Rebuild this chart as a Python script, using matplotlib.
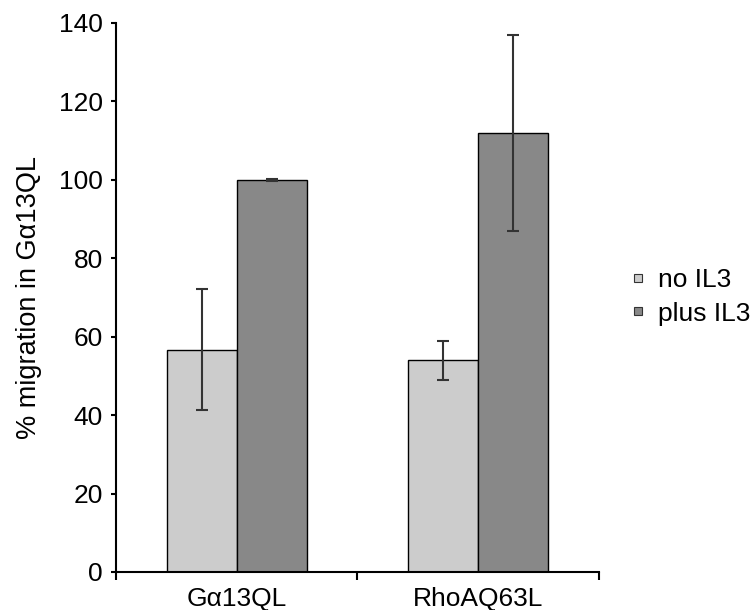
import numpy as np
import matplotlib.pyplot as plt
from matplotlib.lines import Line2D

plt.rcParams['font.family'] = ['Liberation Sans', 'DejaVu Sans']

# values
groups = ["G\u03b113QL", "RhoAQ63L"]
series = ["no IL3", "plus IL3"]
no_il3 = [56.7, 54.0]
no_il3_err = [15.5, 5.0]
plus_il3 = [100.0, 112.0]
plus_il3_err = [0.3, 25.0]
colors = ['#cccccc', '#888888']

fig = plt.figure(figsize=(7.55, 6.1), dpi=100)
ax = fig.add_axes([0.1536, 0.0623, 0.6398, 0.9])

x = np.arange(len(groups))
w = 0.29
err_kw = dict(ecolor='#333333', elinewidth=1.5, capsize=4, capthick=1.5)
ax.bar(x - w / 2, no_il3, w, yerr=no_il3_err, color=colors[0], edgecolor='black',
       linewidth=1, error_kw=err_kw)
ax.bar(x + w / 2, plus_il3, w, yerr=plus_il3_err, color=colors[1], edgecolor='black',
       linewidth=1, error_kw=err_kw)

ax.set_xlim(-0.5, 1.5)
ax.set_ylim(0, 140)
ax.set_yticks(range(0, 141, 20))
ax.tick_params(axis='y', labelsize=19, direction='out', length=3.5, width=1.5, pad=6)
ax.set_xticks([-0.5, 0.5, 1.5])
ax.set_xticklabels([])
ax.set_xticks(x, minor=True)
ax.set_xticklabels(groups, minor=True, fontsize=19)
ax.tick_params(axis='x', which='major', direction='out', length=6, width=1.5)
ax.tick_params(axis='x', which='minor', length=0, pad=11)
ax.set_ylabel("% migration in G\u03b113QL", fontsize=19.5, labelpad=12)

for s in ['top', 'right']:
    ax.spines[s].set_visible(False)
for s in ['left', 'bottom']:
    ax.spines[s].set_linewidth(1.5)

# small square legend keys
handles = [Line2D([], [], marker='s', ls='', markersize=6, markerfacecolor=c,
                  markeredgecolor='#333333', markeredgewidth=0.8) for c in colors]
fig.legend(handles, series, loc='center left', bbox_to_anchor=(0.838, 0.513),
           frameon=False, fontsize=19, handlelength=0.4, handletextpad=0.55,
           labelspacing=0.35, borderpad=0, borderaxespad=0)

fig.savefig("out.png", dpi=100)
